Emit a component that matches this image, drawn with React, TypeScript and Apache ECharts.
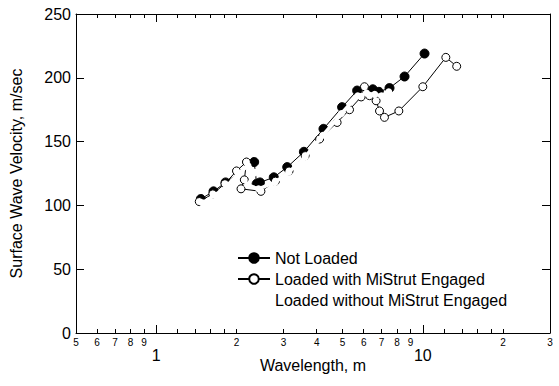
import React, { useEffect, useRef } from 'react';
import * as echarts from 'echarts';

// Wavelength (m) and surface wave velocity (m/sec)
const notLoadedX = [1.47, 1.64, 1.82, 2.33, 2.38, 2.45, 2.76, 3.10, 3.58, 4.24, 4.98, 5.67, 6.49, 6.84, 7.5, 8.54, 10.15];
const notLoadedY = [105, 111, 118, 134, 117, 118, 122, 130, 142, 160, 177, 190, 191, 189, 192, 201, 219];

const loadedWithX = [1.45, 1.63, 1.81, 2.0, 2.18, 2.14, 2.08, 2.47, 2.8, 3.15, 3.62, 4.10, 4.77, 5.31, 5.87, 6.04, 6.31, 6.68, 6.88, 7.18, 8.13, 10.0, 12.2, 13.4];
const loadedWithY = [103, 109, 117, 127, 134, 120, 113, 111, 119, 127, 139, 152, 165, 175, 185, 193, 186, 182, 174, 169, 174, 193, 216, 209];

const loadedWithoutX = [1.49, 1.66, 1.84, 2.03, 2.21, 2.37, 2.2, 2.42, 2.79, 3.14, 3.62, 4.22, 4.95, 5.7, 6.15, 6.6, 7.0, 7.45];
const loadedWithoutY = [102, 108, 115, 125, 131, 126, 116, 113, 118, 126, 138, 155, 172, 186, 188, 187, 186, 189];

// Axis ticks and labels
const xMin = 0.5;
const xMax = 30;
const minorTickValues = [0.6, 0.7, 0.8, 0.9, 1.2, 1.4, 1.6, 1.8, 2, 3, 4, 5, 6, 7, 8, 9, 12, 14, 16, 18, 20];
const majorTickValues = [1, 10];
const smallLabelValues = [0.5, 0.6, 0.7, 0.8, 0.9, 2, 3, 4, 5, 6, 7, 8, 9, 20, 30];
const bigLabelValues = [1, 10];
const yMin = 0;
const yMax = 250;
const yInterval = 50;

const seriesNames = ['Not Loaded', 'Loaded with MiStrut Engaged', 'Loaded without MiStrut Engaged'];

const zip = (xs: number[], ys: number[]) => xs.map((x, i) => [x, ys[i]]);

const leadingDigit = (v: number) => {
  let d = v;
  while (d >= 10) d /= 10;
  while (d < 1) d *= 10;
  return String(Math.round(d));
};

export default function App() {
  const ref = useRef<HTMLDivElement>(null);
  useEffect(() => {
    document.body.style.margin = '0';
    if (!ref.current) return;
    const chart = echarts.init(ref.current, null, { renderer: 'svg' });
    const font = 'Liberation Sans';
    const baseX = {
      type: 'log' as const,
      logBase: 10,
      min: xMin,
      max: xMax,
      splitLine: { show: false },
      minorTick: { show: false },
    };
    const option: any = {
      animation: false,
      textStyle: { fontFamily: font, color: '#000' },
      grid: { left: 76, right: 9, top: 14, bottom: 53, containLabel: false },
      legend: {
        orient: 'vertical',
        left: 232,
        top: 245,
        itemWidth: 32,
        itemHeight: 12,
        itemGap: 5,
        data: seriesNames,
        textStyle: { fontSize: 16, fontFamily: font, color: '#000', lineHeight: 16 },
        selectedMode: false,
      },
      xAxis: [
        {
          ...baseX,
          position: 'bottom',
          axisLine: { show: true, lineStyle: { color: '#000', width: 1 } },
          axisTick: { show: true, inside: true, length: 4, customValues: minorTickValues, lineStyle: { color: '#000' } },
          axisLabel: {
            show: true,
            customValues: smallLabelValues,
            formatter: (v: number) => leadingDigit(v),
            fontSize: 10,
            margin: 4,
            color: '#000',
            fontFamily: font,
          },
          name: 'Wavelength, m',
          nameLocation: 'middle',
          nameGap: 24,
          nameTextStyle: { fontSize: 16, color: '#000', fontFamily: font },
        },
        {
          ...baseX,
          position: 'bottom',
          axisLine: { show: false },
          axisTick: { show: true, inside: true, length: 8, customValues: majorTickValues, lineStyle: { color: '#000' } },
          axisLabel: {
            show: true,
            customValues: bigLabelValues,
            formatter: (v: number) => String(v),
            fontSize: 16,
            margin: 14,
            color: '#000',
            fontFamily: font,
          },
        },
        {
          ...baseX,
          position: 'top',
          axisLine: { show: true, lineStyle: { color: '#000', width: 1 } },
          axisTick: { show: true, inside: true, length: 4, customValues: minorTickValues, lineStyle: { color: '#000' } },
          axisLabel: { show: false },
        },
        {
          ...baseX,
          position: 'top',
          axisLine: { show: false },
          axisTick: { show: true, inside: true, length: 8, customValues: majorTickValues, lineStyle: { color: '#000' } },
          axisLabel: { show: false },
        },
      ],
      yAxis: [
        {
          type: 'value',
          position: 'left',
          min: yMin,
          max: yMax,
          interval: yInterval,
          splitLine: { show: false },
          axisLine: { show: true, lineStyle: { color: '#000', width: 1 } },
          axisTick: { show: true, inside: true, length: 8, lineStyle: { color: '#000' } },
          axisLabel: { fontSize: 16, margin: 5, color: '#000', fontFamily: font },
          name: 'Surface Wave Velocity, m/sec',
          nameLocation: 'middle',
          nameGap: 52,
          nameRotate: 90,
          nameTextStyle: { fontSize: 16, color: '#000', fontFamily: font },
        },
        {
          type: 'value',
          position: 'right',
          min: yMin,
          max: yMax,
          interval: yInterval,
          splitLine: { show: false },
          axisLine: { show: true, lineStyle: { color: '#000', width: 1 } },
          axisTick: { show: true, inside: true, length: 8, lineStyle: { color: '#000' } },
          axisLabel: { show: false },
        },
      ],
      series: [
        {
          name: seriesNames[0],
          type: 'line',
          data: zip(notLoadedX, notLoadedY),
          symbol: 'circle',
          symbolSize: 9,
          itemStyle: { color: '#000', borderColor: '#000', borderWidth: 1 },
          lineStyle: { color: '#000', width: 1 },
          z: 2,
        },
        {
          name: seriesNames[1],
          type: 'line',
          data: zip(loadedWithX, loadedWithY),
          symbol: 'circle',
          symbolSize: 8,
          itemStyle: { color: '#fff', borderColor: '#000', borderWidth: 1 },
          lineStyle: { color: '#000', width: 1 },
          z: 3,
        },
        {
          name: seriesNames[2],
          type: 'line',
          data: zip(loadedWithoutX, loadedWithoutY),
          symbol: 'circle',
          symbolSize: 7,
          itemStyle: { color: '#fff', borderColor: '#fff', borderWidth: 0 },
          lineStyle: { color: '#fff', width: 3.5 },
          z: 4,
        },
      ],
    };
    chart.setOption(option);
    return () => chart.dispose();
  }, []);
  return <div ref={ref} style={{ width: 559, height: 386 }} />;
}
